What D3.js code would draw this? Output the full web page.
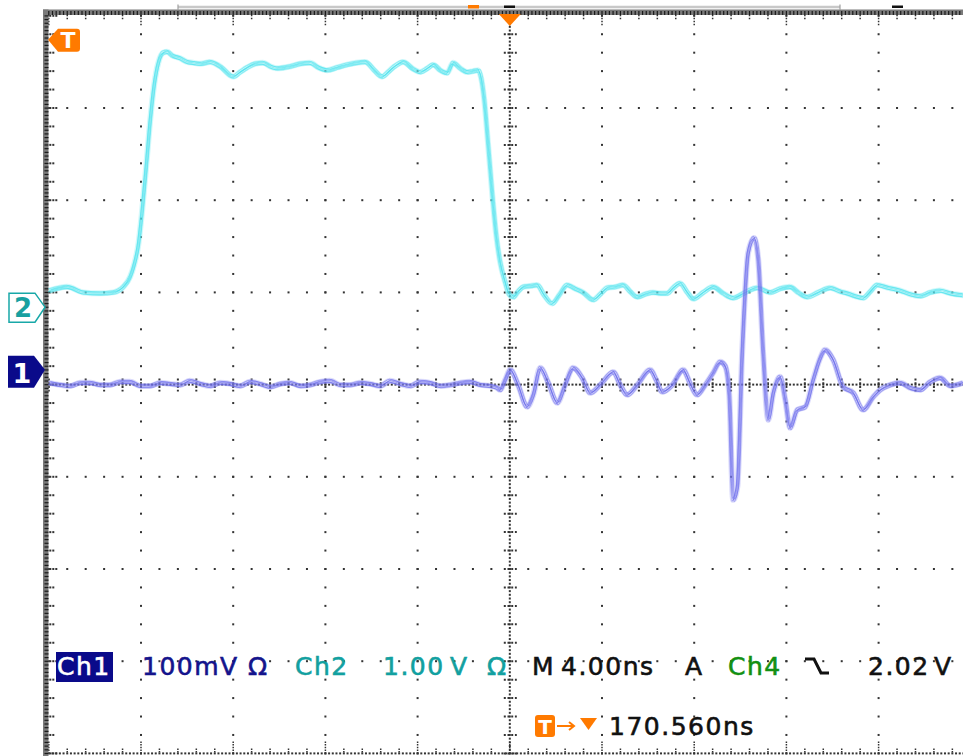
<!DOCTYPE html>
<html>
<head>
<meta charset="utf-8">
<script src="https://cdn.jsdelivr.net/npm/d3@7"></script>
<style>
  body { margin: 0; background: #fff; }
  svg { display: block; }
  text { font-family: "DejaVu Sans", sans-serif; }
</style>
</head>
<body>
<svg id="scope" width="963" height="756"></svg>
<script>
// --- channel 2 (1.00 V/div), time in ns relative to trigger ---
const ch2TimeNs = [-19.98,-19.20,-18.51,-17.77,-17.21,-16.77,-16.47,-16.30,-16.12,-15.95,
  -15.77,-15.60,-15.43,-15.25,-15.04,-14.86,-14.65,-14.30,-14.00,-13.74,
  -13.43,-13.00,-12.56,-12.00,-11.70,-11.39,-11.05,-10.70,-10.39,-10.09,
  -9.53,-9.09,-8.66,-8.31,-7.92,-7.49,-7.05,-6.66,-6.27,-5.88,
  -5.54,-5.28,-5.06,-4.62,-4.23,-3.89,-3.58,-3.32,-3.02,-2.72,
  -2.46,-2.15,-1.85,-1.59,-1.37,-1.24,-1.11,-0.94,-0.76,-0.59,
  -0.42,-0.20,-0.03,0.15,0.36,0.58,0.89,1.19,1.49,1.84,
  2.14,2.49,2.84,3.18,3.62,3.92,4.23,4.57,4.92,5.22,
  5.53,5.87,6.22,6.52,6.83,7.09,7.39,7.70,7.96,8.39,
  8.82,9.26,9.69,10.21,10.73,11.30,11.73,12.16,12.51,12.90,
  13.38,13.90,14.33,14.64,14.98,15.33,15.64,15.94,16.42,16.94,
  17.37,17.80,18.24,18.67,19.11,19.67];
const ch2Volts = [0.18,0.22,0.16,0.15,0.16,0.22,0.33,0.46,0.67,1.05,
  1.54,2.03,2.41,2.65,2.76,2.77,2.73,2.70,2.66,2.65,
  2.64,2.66,2.61,2.50,2.55,2.60,2.64,2.65,2.61,2.59,
  2.61,2.64,2.65,2.60,2.57,2.60,2.63,2.65,2.66,2.57,
  2.50,2.55,2.60,2.66,2.59,2.55,2.59,2.63,2.57,2.54,
  2.65,2.59,2.55,2.56,2.57,2.48,2.25,1.76,1.22,0.78,
  0.49,0.27,0.14,0.11,0.17,0.22,0.23,0.24,0.13,0.04,
  0.13,0.24,0.20,0.16,0.08,0.14,0.21,0.22,0.24,0.17,
  0.11,0.14,0.16,0.15,0.15,0.21,0.26,0.16,0.09,0.16,
  0.22,0.15,0.10,0.16,0.21,0.16,0.20,0.22,0.16,0.11,
  0.16,0.21,0.17,0.15,0.12,0.10,0.17,0.24,0.21,0.18,
  0.14,0.12,0.16,0.18,0.15,0.13];

// --- channel 1 (100 mV/div) ---
const ch1TimeNs = [-19.98,-19.51,-19.07,-18.64,-18.20,-17.77,-17.34,-16.90,-16.47,-16.03,
  -15.60,-15.17,-14.73,-14.30,-13.87,-13.43,-13.00,-12.56,-12.13,-11.70,
  -11.26,-10.83,-10.39,-9.96,-9.53,-9.09,-8.66,-8.23,-7.79,-7.36,
  -6.92,-6.49,-6.06,-5.62,-5.19,-4.75,-4.32,-3.89,-3.45,-3.02,
  -2.59,-2.15,-1.72,-1.28,-0.85,-0.55,-0.42,-0.20,0.02,0.36,
  0.75,1.02,1.32,1.67,2.06,2.40,2.75,3.14,3.49,3.92,
  4.49,4.79,5.09,5.53,6.09,6.35,6.61,7.05,7.52,7.83,
  8.13,8.48,8.82,9.13,9.34,9.52,9.69,9.87,10.08,10.34,
  10.60,10.78,10.99,11.21,11.43,11.73,11.95,12.16,12.47,12.82,
  13.16,13.47,13.68,14.03,14.46,14.90,15.33,15.77,16.07,16.50,
  16.94,17.37,17.80,18.24,18.67,19.11,19.67];
const ch1MilliVolts = [-14.1,-16.3,-17.4,-14.1,-14.1,-16.3,-16.3,-13.0,-13.0,-17.4,
  -17.4,-14.1,-15.2,-16.3,-11.9,-15.2,-17.4,-14.1,-15.2,-17.4,
  -13.0,-15.2,-18.4,-15.2,-14.1,-17.4,-16.3,-13.0,-11.9,-16.3,
  -16.3,-14.1,-15.2,-17.4,-11.9,-15.2,-17.4,-13.0,-14.1,-17.4,
  -16.3,-14.1,-13.0,-16.3,-17.4,-19.5,-21.7,-10.9,0.0,-16.3,
  -40.1,-27.1,2.2,-14.1,-35.8,-16.3,2.2,-8.7,-25.0,-16.3,
  -2.2,-16.3,-27.1,-16.3,0.0,-10.9,-23.9,-16.3,0.0,-15.2,
  -27.1,-16.3,-3.3,8.7,4.3,-27.1,-141,-127,18.4,127,
  143,119,18.4,-54.3,-25.0,-7.6,-32.6,-62.9,-43.4,-40.1,
  -10.9,13.0,21.7,10.9,-18.4,-25.0,-43.4,-29.3,-21.7,-16.3,
  -14.1,-19.5,-21.7,-13.0,-8.7,-17.4,-14.1];

// --- scope settings ---
const ch1VoltsPerDiv = 0.1, ch1PositionDiv = 0.16;
const ch2VoltsPerDiv = 1.0, ch2PositionDiv = 0.84;
const triggerLevelDiv = 3.74;
const timePerDivNs = 4;

const svg = d3.select("#scope");
const plotLeft = 48.8, plotTop = 15.8, div = 92.2;

const x = d3.scaleLinear().domain([-5 * timePerDivNs, 5 * timePerDivNs]).range([plotLeft, plotLeft + 10 * div]);
const y = d3.scaleLinear().domain([-4, 4]).range([plotTop + 8 * div, plotTop]);

const dotColor = "#333";
const frameGray = "#7a7a7a";
const orange = "#ff7a00";

// ---------- graticule ----------
const grid = svg.append("g").attr("class", "graticule");
const minorT = d3.range(0, 51).map(i => -20 + i * 0.8);
const minorD = d3.range(0, 41).map(j => -4 + j * 0.2);
const fineD = d3.range(0, 201).map(j => -4 + j * 0.04);
const fineT = d3.range(0, 251).map(i => -20 + i * 0.16);

const dots = [];
[-16, -12, -8, -4, 4, 8, 12, 16].forEach(t => minorD.forEach(d => dots.push([x(t), y(d)])));
[-3, -2, -1, 1, 2, 3].forEach(d => minorT.forEach(t => dots.push([x(t), y(d)])));
// centre cross: fine dots
fineD.forEach(d => dots.push([x(0), y(d)]));
fineT.forEach(t => dots.push([x(t), y(0)]));
// left edge ticks
minorD.forEach((d, j) => {
  dots.push([plotLeft + 1.5, y(d)], [plotLeft + 4.5, y(d)]);
  if (j % 5 === 0) dots.push([plotLeft + 7.5, y(d)]);
});
// bottom edge: fine dotted line
fineT.forEach(t => dots.push([x(t), y(-4)]));

grid.selectAll("rect.dot").data(dots).join("rect")
  .attr("class", "dot")
  .attr("x", d => d[0] - 1).attr("y", d => d[1] - 1)
  .attr("width", 2).attr("height", 2)
  .attr("fill", dotColor);

// centre cross minor ticks
grid.selectAll("line.vtick").data(minorD).join("line")
  .attr("class", "vtick")
  .attr("x1", x(0) - 6).attr("x2", x(0) + 7)
  .attr("y1", d => y(d)).attr("y2", d => y(d))
  .attr("stroke", dotColor).attr("stroke-width", 2).attr("stroke-dasharray", "2,1.7");
grid.selectAll("line.htick").data(minorT).join("line")
  .attr("class", "htick")
  .attr("x1", d => x(d)).attr("x2", d => x(d))
  .attr("y1", y(0) - 6).attr("y2", y(0) + 7)
  .attr("stroke", dotColor).attr("stroke-width", 2).attr("stroke-dasharray", "2,1.7");

// bottom edge ticks
grid.selectAll("line.btick").data(minorT).join("line")
  .attr("class", "btick")
  .attr("x1", d => x(d)).attr("x2", d => x(d))
  .attr("y1", (d, i) => y(-4) - (i % 5 === 0 ? 12 : 5)).attr("y2", y(-4))
  .attr("stroke", dotColor).attr("stroke-width", 1.5).attr("stroke-dasharray", "1.5,1.2");

// top edge ticks below the frame bar
grid.selectAll("line.ttick").data(minorT).join("line")
  .attr("class", "ttick")
  .attr("x1", d => x(d)).attr("x2", d => x(d))
  .attr("y1", plotTop - 1).attr("y2", (d, i) => plotTop + (i % 5 === 0 ? 11 : 4))
  .attr("stroke", dotColor).attr("stroke-width", 1.5).attr("stroke-dasharray", "1.5,1.5");

// frame bars (left and top)
const frame = svg.append("g").attr("class", "frame");
frame.append("rect").attr("x", 43).attr("y", 9.5).attr("width", 920).attr("height", 5.5).attr("fill", frameGray);
frame.append("rect").attr("x", 43).attr("y", 9.5).attr("width", 5.5).attr("height", 747).attr("fill", frameGray);
frame.selectAll("rect.ltick").data(fineD).join("rect")
  .attr("class", "ltick")
  .attr("x", 44.5).attr("y", d => y(d) - 0.5).attr("width", 4).attr("height", 1.2)
  .attr("fill", "#1a1a1a");
frame.selectAll("rect.tptick").data(fineT.filter(t => x(t) < 963)).join("rect")
  .attr("class", "tptick")
  .attr("x", d => x(d) - 0.6).attr("y", 11).attr("width", 1.2).attr("height", 4)
  .attr("fill", "#1a1a1a");

// record-window bracket above the frame
const bracket = svg.append("g");
bracket.append("line").attr("x1", 178).attr("x2", 840).attr("y1", 7).attr("y2", 7)
  .attr("stroke", "#c8c8c8").attr("stroke-width", 2.5);
bracket.append("line").attr("x1", 178).attr("x2", 178).attr("y1", 4.5).attr("y2", 10)
  .attr("stroke", "#a0a0a0").attr("stroke-width", 1.2);
bracket.append("line").attr("x1", 840).attr("x2", 840).attr("y1", 4.5).attr("y2", 10)
  .attr("stroke", "#a0a0a0").attr("stroke-width", 1.2);
bracket.append("rect").attr("x", 468).attr("y", 5).attr("width", 11).attr("height", 3.5).attr("fill", orange);
bracket.append("rect").attr("x", 504).attr("y", 5.5).attr("width", 11).attr("height", 2.5).attr("fill", "#111");
bracket.append("rect").attr("x", 892).attr("y", 5.5).attr("width", 11).attr("height", 2.5).attr("fill", "#111");

// ---------- traces (persistence look) ----------
const ch2Data = ch2TimeNs.map((t, i) => ({ t, v: ch2PositionDiv + ch2Volts[i] / ch2VoltsPerDiv }));
const ch1Data = ch1TimeNs.map((t, i) => ({ t, v: ch1PositionDiv + ch1MilliVolts[i] / 1000 / ch1VoltsPerDiv }));

const line = d3.line().x(d => x(d.t)).y(d => y(d.v)).curve(d3.curveMonotoneX);
const ghostOffsets = [[0, 0], [0.8, 1.8], [-0.8, -1.6], [1.5, -1.0], [-1.3, 1.3]];

function drawTrace(data, core, halo) {
  const g = svg.append("g");
  g.append("path").datum(data).attr("d", line)
    .attr("fill", "none").attr("stroke", halo).attr("stroke-width", 6)
    .attr("stroke-opacity", 0.45).attr("stroke-linejoin", "round");
  ghostOffsets.forEach(([dx, dy]) => {
    g.append("path").datum(data).attr("d", line)
      .attr("transform", `translate(${dx},${dy})`)
      .attr("fill", "none").attr("stroke", core).attr("stroke-width", 1.1)
      .attr("stroke-opacity", 0.5).attr("stroke-linejoin", "round");
  });
}
drawTrace(ch2Data, "#3fe2ee", "#9ef2f7");
drawTrace(ch1Data, "#6262ec", "#b2b2f7");

// ---------- markers ----------
// trigger position (top, centre)
const tx = x(0);
svg.append("path")
  .attr("d", `M${tx - 11},14 L${tx + 11},14 L${tx},26 Z`).attr("fill", orange);

// trigger level marker on the left
const ty = y(triggerLevelDiv);
svg.append("path")
  .attr("d", `M48,${ty} L58,${ty - 11} L77,${ty - 11} Q80,${ty - 11} 80,${ty - 8} L80,${ty + 9} Q80,${ty + 12} 77,${ty + 12} L58,${ty + 12} Z`)
  .attr("fill", orange);
svg.append("text").attr("x", 68).attr("y", ty + 8).attr("text-anchor", "middle")
  .attr("font-size", 22).attr("font-weight", "bold").attr("fill", "#fff").text("T");

// channel 2 ground marker
const y2 = y(ch2PositionDiv);
svg.append("path")
  .attr("d", `M9,${y2 - 14} L35,${y2 - 14} L45,${y2} L35,${y2 + 15} L9,${y2 + 15} Z`)
  .attr("fill", "#fff").attr("stroke", "#18a8a8").attr("stroke-width", 1.5);
svg.append("text").attr("x", 23).attr("y", y2 + 10).attr("text-anchor", "middle")
  .attr("font-size", 26).attr("font-weight", "bold").attr("fill", "#18a0a0").text("2");

// channel 1 ground marker
const y1 = y(ch1PositionDiv);
svg.append("path")
  .attr("d", `M8,${y1 - 14} L34,${y1 - 14} L45,${y1} L34,${y1 + 18} L8,${y1 + 18} Z`)
  .attr("fill", "#0a0a8a");
svg.append("text").attr("x", 22).attr("y", y1 + 13).attr("text-anchor", "middle")
  .attr("font-size", 27).attr("font-weight", "bold").attr("fill", "#fff").text("1");

// ---------- readout ----------
const readout = svg.append("g").attr("font-size", 25).attr("letter-spacing", 1.5);
readout.append("rect").attr("x", 56).attr("y", 652).attr("width", 57).attr("height", 30).attr("fill", "#0a0a8a");

const row1 = [
  { text: "Ch1", x: 57, color: "#fff" },
  { text: "100mV", x: 142, color: "#14148c" },
  { text: "Ω", x: 248, color: "#14148c" },
  { text: "Ch2", x: 295, color: "#12a0a0" },
  { text: "1.00", x: 383, color: "#12a0a0" },
  { text: "V", x: 450, color: "#12a0a0" },
  { text: "Ω", x: 487, color: "#12a0a0" },
  { text: "M", x: 532, color: "#111" },
  { text: "4.00ns", x: 561, color: "#111" },
  { text: "A", x: 685, color: "#111" },
  { text: "Ch4", x: 728, color: "#129012" },
  { text: "2.02", x: 868, color: "#111" },
  { text: "V", x: 934, color: "#111" }
];
readout.selectAll("text.r1").data(row1).join("text")
  .attr("class", "r1")
  .attr("x", d => d.x).attr("y", 675)
  .attr("fill", d => d.color)
  .attr("stroke", d => d.color).attr("stroke-width", 0.6)
  .text(d => d.text);

// falling-edge slope symbol
readout.append("path").attr("d", "M805,659 L814,659 L821,673 L829,673")
  .attr("fill", "none").attr("stroke", "#111").attr("stroke-width", 3);

// trigger-position readout row
readout.append("rect").attr("x", 535).attr("y", 715).attr("width", 20).attr("height", 22).attr("rx", 3).attr("fill", orange);
readout.append("text").attr("x", 545).attr("y", 734).attr("text-anchor", "middle")
  .attr("font-size", 20).attr("font-weight", "bold").attr("letter-spacing", 0).attr("fill", "#fff").text("T");
readout.append("path").attr("d", "M557,726 L573,726 M569,722 L574,726 L569,730")
  .attr("fill", "none").attr("stroke", orange).attr("stroke-width", 2);
readout.append("path").attr("d", "M580,718 L597,718 L588.5,730 Z").attr("fill", orange);
readout.append("text").attr("x", 609).attr("y", 735).attr("fill", "#111")
  .attr("stroke", "#111").attr("stroke-width", 0.6).text("170.560ns");
</script>
</body>
</html>
